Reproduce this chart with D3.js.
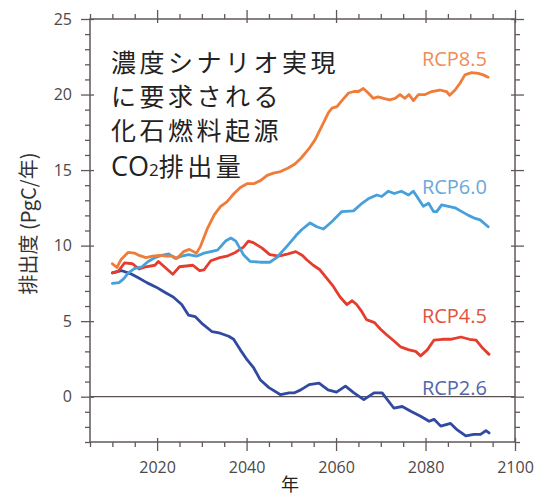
<!DOCTYPE html>
<html><head><meta charset="utf-8">
<script src="https://cdn.jsdelivr.net/npm/d3@7"></script>
<style>
html,body{margin:0;padding:0;background:#fff;}
svg{display:block;}
</style></head>
<body>
<svg id="chart" width="540" height="499"></svg>
<script>
// ---- data ----
const rcp85 = [[2010,8.8],[2011,8.55],[2012,9.1],[2013.5,9.55],[2015,9.5],[2016,9.35],[2017.5,9.2],[2019,9.3],[2020.5,9.35],[2022,9.3],[2023.5,9.3],[2024.4,9.15],[2025.9,9.6],[2027.2,9.75],[2028.8,9.5],[2029.7,9.95],[2031.2,11.1],[2032.8,12.05],[2034.2,12.6],[2035.6,12.9],[2037.2,13.45],[2038.6,13.85],[2040.1,14.1],[2041.6,14.1],[2043.1,14.3],[2044.6,14.65],[2046,14.8],[2047.6,14.9],[2049.4,15.15],[2050.8,15.4],[2052.2,15.8],[2053.9,16.4],[2055.3,17.0],[2056.8,17.9],[2058.3,18.8],[2059.1,19.1],[2060.2,19.2],[2061.3,19.6],[2062.8,20.1],[2064,20.2],[2065,20.2],[2066.1,20.4],[2067.2,20.1],[2068.3,19.75],[2069.4,19.85],[2070.6,19.75],[2072,19.65],[2073.2,19.75],[2074.3,20.0],[2075.4,19.75],[2076.3,20.0],[2077.3,19.6],[2078.4,20.0],[2079.9,20.0],[2081.4,20.2],[2083.2,20.3],[2084.7,20.2],[2085.4,19.95],[2086.6,20.3],[2087.7,20.75],[2088.8,21.3],[2090.3,21.45],[2091.8,21.4],[2092.9,21.3],[2094,21.15]];
const rcp60 = [[2010,7.5],[2011.5,7.55],[2012.5,7.8],[2013.6,8.2],[2015,8.5],[2016.6,8.6],[2018,8.95],[2019.5,9.2],[2021,9.35],[2022.6,9.45],[2024,9.15],[2025.5,9.3],[2027,9.4],[2028.8,9.3],[2030.5,9.5],[2032,9.6],[2033.5,9.7],[2035.3,10.3],[2036.5,10.5],[2037.6,10.3],[2039.3,9.4],[2040.8,8.95],[2043,8.9],[2045.2,8.9],[2046.7,9.2],[2049,9.95],[2051,10.65],[2052.3,11.05],[2054.2,11.5],[2055.7,11.25],[2057.2,11.1],[2059.1,11.6],[2061.3,12.25],[2063.9,12.3],[2065.8,12.8],[2067.2,13.1],[2069.1,13.35],[2070.2,13.25],[2071.7,13.6],[2073,13.45],[2074.6,13.6],[2076.2,13.35],[2077.3,13.6],[2078.4,13.1],[2079.5,12.6],[2080.7,12.8],[2081.8,12.25],[2082.5,12.25],[2083.6,12.7],[2085.1,12.6],[2086.6,12.5],[2088.1,12.25],[2089.6,12.0],[2091.1,11.8],[2092.2,11.7],[2094,11.25]];
const rcp45 = [[2010,8.2],[2011.3,8.3],[2012.7,8.85],[2014.5,8.8],[2016,8.45],[2017.5,8.6],[2019.5,8.7],[2020.3,8.95],[2021.8,8.55],[2023.5,8.1],[2025,8.6],[2026.5,8.65],[2028,8.7],[2029.5,8.35],[2030.5,8.4],[2032,9.0],[2034,9.2],[2035.6,9.3],[2037.5,9.55],[2039.3,9.9],[2040.4,10.3],[2041.5,10.2],[2043.4,9.85],[2045.2,9.4],[2047.2,9.3],[2049.3,9.45],[2051,9.6],[2052.5,9.35],[2053.5,9.05],[2054.9,8.7],[2056.4,8.4],[2057.9,7.85],[2059.4,7.3],[2060.9,6.6],[2062.4,6.1],[2063.6,6.35],[2064.6,6.1],[2065.6,5.7],[2066.8,5.1],[2068.6,4.9],[2070,4.45],[2071.3,4.1],[2072.9,3.7],[2074.4,3.3],[2076.3,3.1],[2077.8,3.0],[2078.9,2.7],[2080.4,3.1],[2081.9,3.75],[2083.8,3.8],[2085.6,3.8],[2087.9,3.95],[2089.8,3.8],[2091.3,3.75],[2092.8,3.2],[2094.2,2.8]];
const rcp26 = [[2010,8.2],[2012,8.35],[2014,8.15],[2015.6,7.9],[2017.7,7.55],[2019.8,7.25],[2021.8,6.9],[2023.6,6.6],[2025.5,6.1],[2027,5.4],[2028.5,5.3],[2030.2,4.8],[2032.3,4.3],[2034.1,4.2],[2036,4.0],[2037.1,3.8],[2038.6,3.1],[2040.1,2.45],[2041.6,1.9],[2043.1,1.1],[2045,0.6],[2047.6,0.13],[2049.5,0.25],[2050.6,0.25],[2052.1,0.45],[2054,0.8],[2056.2,0.9],[2058.2,0.45],[2060.1,0.3],[2062.1,0.7],[2064,0.25],[2066.2,-0.2],[2068.5,0.25],[2070.3,0.25],[2072.9,-0.75],[2074.8,-0.65],[2076.7,-0.97],[2078.9,-1.3],[2080.8,-1.63],[2081.9,-1.5],[2083.4,-1.95],[2085.6,-1.77],[2087.1,-2.2],[2089,-2.6],[2090.8,-2.5],[2092.3,-2.5],[2093.5,-2.25],[2094.2,-2.4]];

const seriesNames = ["RCP8.5","RCP6.0","RCP4.5","RCP2.6"];
const labelValues = [21.9, 13.4, 4.9, 0.1];   // label anchor heights (y value)
const xMajorTicks = [2020,2040,2060,2080,2100];
const xMinorTicks = [2005,2010,2015,2025,2030,2035,2045,2050,2055,2065,2070,2075,2085,2090,2095];
const yMajorTicks = [0,5,10,15,20,25];
const yMinorTicks = [-3,-2,-1,1,2,3,4,6,7,8,9,11,12,13,14,16,17,18,19,21,22,23,24];
const titleLines = ["濃度シナリオ実現","に要求される","化石燃料起源"];
const yAxisTitle = "排出度 (PgC/年)";
const xAxisTitle = "年";

// ---- layout ----
const svg = d3.select("#chart");
const L = 90, R = 515, T = 19, B = 442;
const x = d3.scaleLinear().domain([2005, 2100]).range([L, R]);
const y = d3.scaleLinear().domain([-3, 25]).range([B, T]);
const axisColor = "#625858";
const lineColors = ["#ef7c38", "#46a0dc", "#e43d2d", "#3149a0"];
const labelColors = ["#ef8d55", "#6aa8d8", "#e2523f", "#5466aa"];

svg.append("rect").attr("width",540).attr("height",499).attr("fill","#fff");

function styleAxis(g){
  g.select(".domain").remove();
  g.selectAll("line").attr("stroke", axisColor).attr("stroke-width", 1.3);
  g.selectAll("text").attr("fill", "#4d4848").attr("font-family", "'Open Sans', 'Noto Sans', sans-serif").attr("font-size", 16);
}

// bottom
svg.append("g").attr("transform",`translate(0,${B})`)
  .call(d3.axisBottom(x).tickValues(xMinorTicks).tickSize(5).tickFormat("")).call(styleAxis);
svg.append("g").attr("transform",`translate(0,${B})`)
  .call(d3.axisBottom(x).tickValues(xMajorTicks).tickSize(9).tickPadding(11).tickFormat(d3.format("d"))).call(styleAxis)
  .selectAll(".tick line").attr("y1",-4);
// top
svg.append("g").attr("transform",`translate(0,${T})`)
  .call(d3.axisTop(x).tickValues(xMinorTicks).tickSize(5).tickFormat("")).call(styleAxis);
svg.append("g").attr("transform",`translate(0,${T})`)
  .call(d3.axisTop(x).tickValues(xMajorTicks).tickSize(9).tickFormat("")).call(styleAxis)
  .selectAll(".tick line").attr("y1",4);
// left
svg.append("g").attr("transform",`translate(${L},0)`)
  .call(d3.axisLeft(y).tickValues(yMinorTicks).tickSize(5).tickFormat("")).call(styleAxis);
svg.append("g").attr("transform",`translate(${L},0)`)
  .call(d3.axisLeft(y).tickValues(yMajorTicks).tickSize(9).tickPadding(9).tickFormat(d3.format("d"))).call(styleAxis)
  .selectAll(".tick line").attr("x1",4);
// right
svg.append("g").attr("transform",`translate(${R},0)`)
  .call(d3.axisRight(y).tickValues(yMinorTicks).tickSize(5).tickFormat("")).call(styleAxis);
svg.append("g").attr("transform",`translate(${R},0)`)
  .call(d3.axisRight(y).tickValues(yMajorTicks).tickSize(9).tickFormat("")).call(styleAxis)
  .selectAll(".tick line").attr("x1",-4);

// frame
svg.append("rect").attr("x",L).attr("y",T).attr("width",R-L).attr("height",B-T)
  .attr("fill","none").attr("stroke",axisColor).attr("stroke-width",1.5);

// zero line
svg.append("line").attr("x1",L).attr("x2",R).attr("y1",y(0)).attr("y2",y(0))
  .attr("stroke","#5a5050").attr("stroke-width",1.3);

// lines
const line = d3.line().x(d=>x(d[0])).y(d=>y(d[1])).curve(d3.curveLinear);
const allSeries = [rcp85, rcp60, rcp45, rcp26];
[3,2,1,0].forEach(i=>{
  svg.append("path").datum(allSeries[i]).attr("d",line)
    .attr("fill","none").attr("stroke",lineColors[i]).attr("stroke-width",2.8)
    .attr("stroke-linejoin","round").attr("stroke-linecap","round");
});

// series labels
seriesNames.forEach((n,i)=>{
  svg.append("text").attr("x",487).attr("y",y(labelValues[i]))
    .attr("text-anchor","end").attr("fill",labelColors[i])
    .attr("font-family","'Open Sans','Noto Sans',sans-serif").attr("font-size",20)
    .text(n);
});

// annotation
const cjk = "'Noto Sans CJK JP','Noto Sans CJK SC',sans-serif";
const ann = svg.append("g").attr("fill","#222").attr("font-family",cjk).attr("font-size",25);
titleLines.forEach((t,i)=>{
  ann.append("text").attr("x",111).attr("y",72 + i*34).attr("letter-spacing",3.5).text(t);
});
const l4 = ann.append("text").attr("x",111).attr("y",176).attr("letter-spacing",3.5);
l4.append("tspan").attr("font-family","'Open Sans','Noto Sans',sans-serif").attr("font-size",27).attr("letter-spacing",0).text("CO");
l4.append("tspan").attr("font-family","'Open Sans','Noto Sans',sans-serif").attr("font-size",17).attr("letter-spacing",0).text("2");
l4.append("tspan").text("排出量");

// axis titles
svg.append("text").attr("transform",`translate(36,${(T+B)/2 - 7}) rotate(-90)`)
  .attr("text-anchor","middle").attr("fill","#333")
  .attr("font-family",cjk).attr("font-size",20).text(yAxisTitle);
svg.append("text").attr("x",290).attr("y",491).attr("text-anchor","middle")
  .attr("fill","#222").attr("font-family",cjk).attr("font-size",18).text(xAxisTitle);
</script>
</body></html>
